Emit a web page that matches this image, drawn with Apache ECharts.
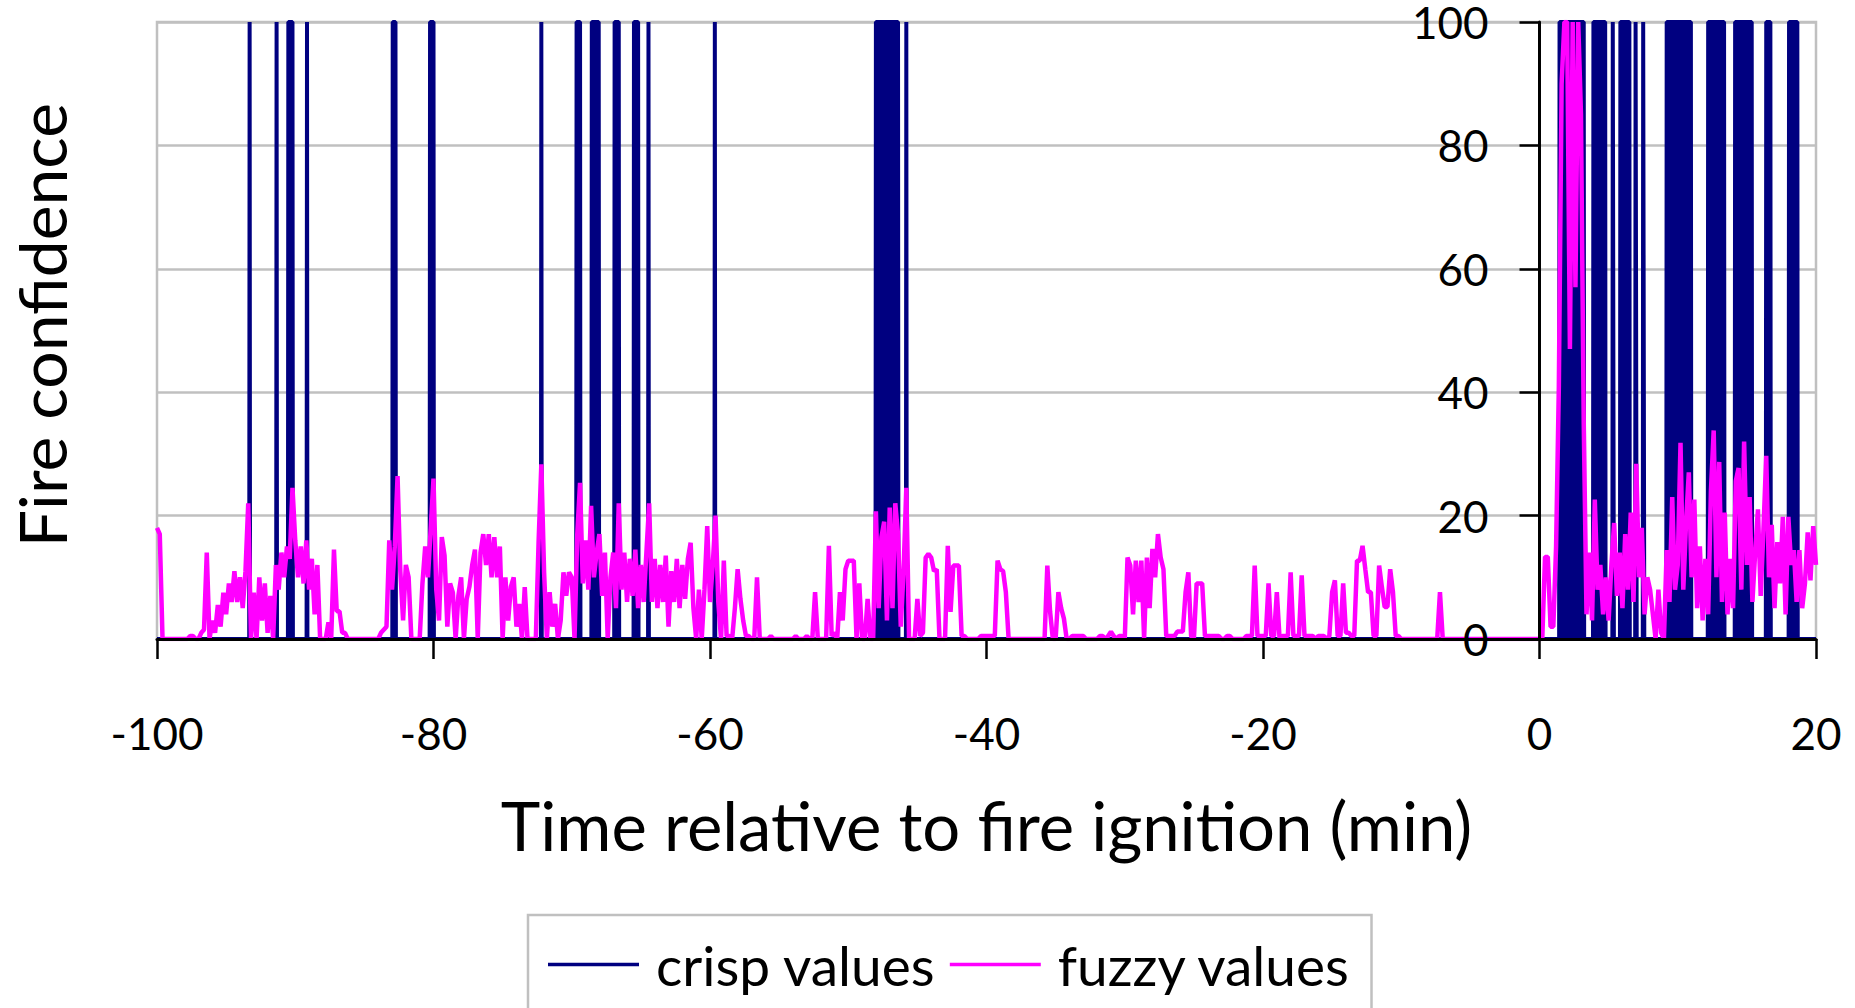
<!DOCTYPE html>
<html>
<head>
<meta charset="utf-8">
<title>Fire confidence</title>
<script src="https://cdn.jsdelivr.net/npm/echarts@6/dist/echarts.min.js"></script>
<style>
    html, body { margin: 0; padding: 0; background: #fff; }
    #chart { width: 1855px; height: 1008px; }
</style>
</head>
<body>
<div id="chart"></div>
<script>
// axis ticks
const xTicks = [-100, -80, -60, -40, -20, 0, 20]
const yTicks = [0, 20, 40, 60, 80, 100]

// crisp detector: periods (min) where it reads 100, 0 everywhere else
const crispOn = [
    [-93.3, -93.3], [-91.35, -91.35], [-90.5, -90.2], [-89.15, -89.15],
    [-82.95, -82.75], [-80.25, -80.0], [-72.2, -72.2], [-69.65, -69.4],
    [-68.55, -68.05], [-66.9, -66.6], [-65.5, -65.2], [-64.45, -64.45],
    [-59.65, -59.65], [-48.0, -46.4], [-45.8, -45.8],
    [1.45, 3.2], [3.9, 4.75], [5.3, 5.35], [5.85, 6.5], [6.95, 7.0],
    [7.5, 7.55], [9.2, 10.95], [12.2, 13.35], [14.15, 15.35], [16.4, 16.7],
    [18.05, 18.65]
]

// fuzzy detector: one reading every 0.2 min, from -100 to 20 (one row = 2 min)
const fuzzyStart = -100
const fuzzyStep = 0.2
const fuzzyValues = [
    18, 17, 0, 0, 0, 0, 0, 0, 0, 0,                   // -100
    0, 0, 0.5, 0.5, 0, 0, 1, 1.5, 14, 0,              // -98
    3, 1, 5.5, 2, 7.5, 4, 9, 6, 11, 6,                // -96
    10, 5, 11, 22, 0, 7.5, 0, 10, 3, 9,               // -94
    1, 7, 0, 12, 8, 14, 10, 15, 13, 24.5,             // -92
    16, 10, 15, 9, 16, 8, 13, 4, 12, 0,               // -90
    0, 0, 2.7, 0, 14.5, 4.5, 4.5, 1, 1, 0,            // -88
    0, 0, 0, 0, 0, 0, 0, 0, 0, 0,                     // -86
    0, 1, 1.5, 2, 16, 8, 15, 26.4, 11, 3,             // -84
    12, 10, 0, 0, 0, 0, 9, 15, 10, 18,                // -82
    26, 8, 3, 16.5, 13.5, 2, 9, 7.5, 0, 7,            // -80
    10, 0, 6.5, 8.5, 12, 14.5, 0, 14, 17, 12,         // -78
    17, 10, 16.5, 10, 15, 0, 10, 3, 8.5, 10,          // -76
    2, 5.7, 0, 8.4, 0, 0, 0, 0, 15.6, 28.3,           // -74
    10.8, 0, 7.6, 2, 5.7, 0, 3, 10.8, 7, 10.8,        // -72
    10, 0, 17, 25.3, 9, 16, 8, 21.6, 10, 14,          // -70
    17, 7, 14, 0, 10, 14, 5, 22, 8, 14,               // -68
    6, 13, 7, 14.5, 5, 12, 6, 14, 22, 6,              // -66
    13, 5, 12, 6, 13.5, 2, 11, 6, 13, 5,              // -64
    12, 6.5, 13, 15.6, 5, 0, 8, 0, 8, 18.3,           // -62
    6, 12, 20, 6, 0, 12.7, 0.5, 0.5, 0, 5,            // -60
    11.3, 6.5, 3, 0.5, 0.5, 0, 0, 10, 0, 0,           // -58
    0, 0, 0.5, 0, 0, 0, 0, 0, 0, 0,                   // -56
    0, 0.5, 0, 0, 0, 0.5, 0, 0, 7.6, 0,               // -54
    0, 0, 0, 15.1, 0.5, 1, 0, 7.6, 3, 11.3,           // -52
    12.7, 12.7, 12.7, 0, 9, 0, 0, 6.5, 0, 0,          // -50
    20.7, 5, 16.5, 19, 3, 21.3, 5, 22, 17, 2,         // -48
    11, 24.5, 0, 0, 0, 6.5, 0.5, 1, 13.2, 13.8,       // -46
    13.2, 11, 11.3, 0, 0, 0, 15.1, 4.4, 11.9, 11.9,   // -44
    11.9, 0.5, 0.5, 0, 0, 0, 0, 0, 0.5, 0.5,          // -42
    0.5, 0.5, 0.5, 0.5, 12.7, 11.3, 11, 7.6, 0, 0,    // -40
    0, 0, 0, 0, 0, 0, 0, 0, 0, 0,                     // -38
    0, 0, 11.9, 4.4, 0, 0, 7.6, 5, 3.3, 0,            // -36
    0, 0.5, 0.5, 0.5, 0.5, 0.5, 0, 0, 0, 0,           // -34
    0, 0.5, 0.5, 0, 0.5, 1.2, 0.5, 0, 0.5, 0.5,       // -32
    0, 13.2, 11.9, 4, 12.7, 6, 12.7, 0, 13.2, 5,      // -30
    14.6, 10, 17, 13.2, 11.3, 0.5, 0.5, 0.5, 0.5, 1.2, // -28
    1.2, 1.2, 7.6, 10.8, 0.5, 0, 9, 9, 9, 0.5,        // -26
    0.5, 0.5, 0.5, 0.5, 0.5, 0, 0, 0.5, 0.5, 0,       // -24
    0, 0, 0, 0, 0.5, 0.5, 0.5, 11.9, 0.5, 0.5,        // -22
    0.5, 0.5, 9, 0.5, 0.5, 7.6, 0, 0.5, 0.5, 0.5,     // -20
    10.8, 0.5, 0.5, 0.5, 10.3, 0.5, 0.5, 0.5, 0.5, 0, // -18
    0.5, 0.5, 0.5, 0, 0.5, 7.6, 9.5, 0.5, 0.5, 9,     // -16
    1, 1, 0.5, 0.5, 12.7, 12.7, 15.1, 11.3, 7.6, 7.6, // -14
    0.5, 0.5, 11.9, 8.4, 5.2, 5.2, 11.3, 7.6, 0.5, 0.5, // -12
    0, 0, 0, 0, 0, 0, 0, 0, 0, 0,                     // -10
    0, 0, 0, 0, 7.6, 0, 0, 0, 0, 0,                   // -8
    0, 0, 0, 0, 0, 0, 0, 0, 0, 0,                     // -6
    0, 0, 0, 0, 0, 0, 0, 0, 0, 0,                     // -4
    0, 0, 0, 0, 0, 0, 0, 0, 0, 0,                     // -2
    0, 0, 13.3, 13.3, 2, 2, 15, 41, 90, 100,          // 0
    100, 47, 100, 57, 100, 85, 35, 4, 14, 3,          // 2
    22.6, 8, 12, 4, 10, 3, 12, 18.8, 7, 14,           // 4
    5, 17, 8, 20.5, 6, 28.4, 10, 18, 4, 10,           // 6
    8, 4, 0, 8, 1, 0, 14.4, 6, 23, 8,                 // 8
    12, 31.8, 8, 18.8, 27, 10, 22.6, 5, 15, 3,        // 10
    13, 4, 24, 33.8, 10, 28.7, 6, 20.5, 4, 13,        // 12
    5, 25.6, 27.7, 8, 32, 12, 23, 6, 14, 21,          // 14
    7, 17.8, 29.7, 10, 18.5, 5, 15.7, 9, 19.8, 4,     // 16
    19.8, 12, 14.4, 6, 14.4, 5, 9, 17.3, 9.5, 18.3,   // 18
    12                                                // 20
]

const seriesNames = ['crisp values', 'fuzzy values']
const seriesColors = ['#000080', '#ff00ff']

// crisp: square pulses from 0 up to 100
const crispPoints = [[xTicks[0], 0]]
crispOn.forEach(([s, e]) => {
    crispPoints.push([s - 0.03, 0], [s, 100], [e, 100], [e + 0.03, 0])
})
crispPoints.push([xTicks[xTicks.length - 1], 0])

const fuzzyPoints = fuzzyValues.map((v, i) => [+(fuzzyStart + i * fuzzyStep).toFixed(2), v])

// plot area (px)
const gridLeft = 157
const gridRight = 39
const chartWidth = 1855
const xMin = xTicks[0]
const xMax = xTicks[xTicks.length - 1]
// the value axis is drawn where time = 0
const zeroOffset = (0 - xMin) / (xMax - xMin) * (chartWidth - gridLeft - gridRight)

const font = 'Lato'
const chart = echarts.init(document.getElementById('chart'), null, { renderer: 'svg' })

const option = {
    animation: false,
    backgroundColor: '#fff',
    textStyle: { fontFamily: font, color: '#000' },
    grid: {
        left: gridLeft,
        right: gridRight,
        top: 20,
        bottom: 369,
        show: true,
        borderColor: '#c0c0c0',
        borderWidth: 2.5,
        backgroundColor: '#fff'
    },
    legend: {
        data: seriesNames,
        left: 528,
        top: 915,
        padding: [22, 20, 120, 20],
        borderColor: '#c0c0c0',
        borderWidth: 2.5,
        icon: 'rect',
        itemWidth: 91,
        itemHeight: 3.5,
        itemGap: 14,
        textStyle: {
            fontFamily: font,
            fontSize: 55,
            color: '#000',
            padding: [0, 0, 0, 12]
        }
    },
    xAxis: {
        type: 'value',
        min: xMin,
        max: xMax,
        interval: 20,
        z: 5,
        name: 'Time relative to fire ignition (min)',
        nameLocation: 'middle',
        nameGap: 152,
        nameTextStyle: { fontFamily: font, fontSize: 67, color: '#000' },
        axisLine: { show: true, lineStyle: { color: '#000', width: 3 } },
        axisTick: { show: true, length: 20, lineStyle: { color: '#000', width: 2.5 } },
        axisLabel: { fontFamily: font, fontSize: 44, color: '#000', margin: 72 },
        splitLine: { show: false }
    },
    yAxis: [
        {
            // gridlines only
            type: 'value',
            min: yTicks[0],
            max: yTicks[yTicks.length - 1],
            interval: 20,
            axisLine: { show: false },
            axisTick: { show: false },
            axisLabel: { show: false },
            splitLine: { show: true, lineStyle: { color: '#c0c0c0', width: 2.5 } }
        },
        {
            // axis line, ticks and labels at time = 0
            type: 'value',
            position: 'left',
            offset: -zeroOffset,
            z: 5,
            min: yTicks[0],
            max: yTicks[yTicks.length - 1],
            interval: 20,
            axisLine: { show: true, onZero: false, lineStyle: { color: '#000', width: 3 } },
            axisTick: { show: true, length: 20, lineStyle: { color: '#000', width: 2.5 } },
            axisLabel: { fontFamily: font, fontSize: 44, lineHeight: 38, color: '#000', margin: 51 },
            splitLine: { show: false }
        }
    ],
    graphic: [
        {
            type: 'text',
            x: 41,
            y: 325,
            rotation: Math.PI / 2,
            style: {
                text: 'Fire confidence',
                fill: '#000',
                font: '66px Lato',
                lineHeight: 66,
                align: 'center',
                verticalAlign: 'middle',
                textAlign: 'center',
                textVerticalAlign: 'middle'
            }
        }
    ],
    series: [
        {
            name: seriesNames[0],
            type: 'line',
            data: crispPoints,
            showSymbol: false,
            color: seriesColors[0],
            lineStyle: { color: seriesColors[0], width: 4 },
            areaStyle: { color: seriesColors[0], opacity: 1 }
        },
        {
            name: seriesNames[1],
            type: 'line',
            data: fuzzyPoints,
            showSymbol: false,
            color: seriesColors[1],
            lineStyle: { color: seriesColors[1], width: 4.5 }
        }
    ]
}

option && chart.setOption(option)
</script>
</body>
</html>
